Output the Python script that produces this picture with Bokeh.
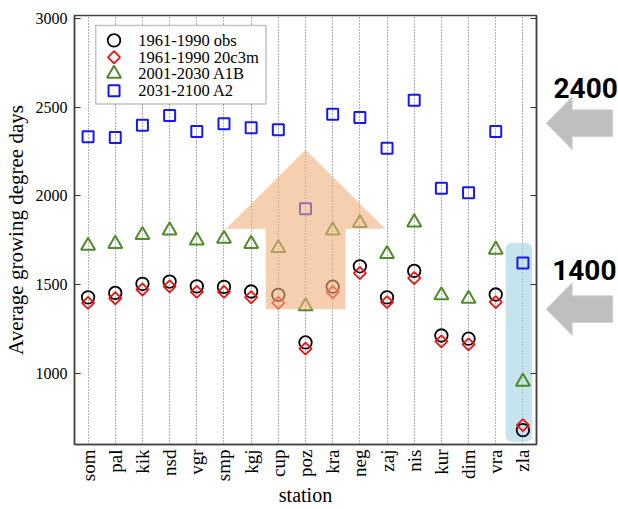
import numpy as np
from bokeh.plotting import figure
from bokeh.layouts import row
from bokeh.models import (ColumnDataSource, FixedTicker, LinearAxis, Range1d,
                          PolyAnnotation, BoxAnnotation, CustomJSTickFormatter)
from bokeh.core.properties import value
from bokeh.embed import file_html
from bokeh.resources import INLINE

# ---------------- data ----------------
stations = ["som", "pal", "kik", "nsd", "vgr", "smp", "kgj", "cup", "poz",
            "kra", "neg", "zaj", "nis", "kur", "dim", "vra", "zla"]
obs_1961_1990 = [1428, 1453, 1504, 1517, 1490, 1487, 1461, 1442, 1174,
                 1488, 1603, 1428, 1577, 1213, 1195, 1444, 680]
c20c3m_1961_1990 = [1397, 1423, 1472, 1490, 1459, 1459, 1429, 1397, 1139,
                    1457, 1565, 1401, 1537, 1180, 1163, 1401, 708]
a1b_2001_2030 = [1719, 1729, 1779, 1805, 1749, 1758, 1729, 1706, 1378,
                 1805, 1847, 1672, 1850, 1440, 1420, 1697, 953]
a2_2031_2100 = [2333, 2328, 2397, 2453, 2363, 2406, 2384, 2372, 1927,
                2459, 2442, 2268, 2538, 2043, 2017, 2363, 1622]
series_labels = ["1961-1990 obs", "1961-1990 20c3m", "2001-2030 A1B", "2031-2100 A2"]
y_ticks = [1000, 1500, 2000, 2500, 3000]
levels = ["2400", "1400"]

SERIF = "Liberation Serif"
X0, X1 = -0.5, 16.5
Y0, Y1 = 599, 3016

# frame geometry (canvas px)
W_TOTAL, H = 618, 509
W_MAIN = 542
FL, FR, FT, FB = 72, 536, 15, 446


def dx(px):  # canvas px -> data x
    return X0 + (px - FL) / (FR - FL) * (X1 - X0)


def dy(py):  # canvas px -> data y
    return Y1 - (py - FT) / (FB - FT) * (Y1 - Y0)


x_idx = list(range(len(stations)))
src = ColumnDataSource(dict(x=x_idx, obs=obs_1961_1990, c20=c20c3m_1961_1990,
                            a1b=a1b_2001_2030, a2=a2_2031_2100))

p = figure(width=W_MAIN, height=H, x_range=Range1d(X0, X1), y_range=Range1d(Y0, Y1),
           output_backend="svg", toolbar_location=None,
           min_border_left=FL, min_border_right=W_MAIN - FR, min_border_top=FT,
           min_border_bottom=H - FB)
p.background_fill_color = "white"
p.border_fill_color = "white"
p.outline_line_color = "#444444"
p.outline_line_width = 1.5

# grid
p.ygrid.grid_line_color = None
p.xgrid.ticker = FixedTicker(ticks=x_idx)
p.xgrid.grid_line_color = "#666666"
p.xgrid.grid_line_dash = "1 2"
p.xgrid.grid_line_width = 1

# x axis
xa = p.xaxis[0]
xa.ticker = FixedTicker(ticks=x_idx)
xa.major_label_overrides = {i: s for i, s in zip(x_idx, stations)}
xa.major_label_orientation = np.pi / 2
xa.major_tick_in = 0
xa.major_tick_out = 0
xa.minor_tick_in = 0
xa.minor_tick_out = 0
xa.major_label_standoff = 5
xa.major_label_text_font = SERIF
xa.major_label_text_font_size = "19px"
xa.major_label_text_color = "black"
xa.axis_label = "station"
xa.axis_label_text_font = SERIF
xa.axis_label_text_font_size = "20px"
xa.axis_label_text_font_style = "normal"
xa.axis_label_text_color = "black"
xa.axis_label_standoff = 0
xa.axis_line_color = "#444444"
xa.axis_line_width = 1.5

# y axis
ya = p.yaxis[0]
ya.ticker = FixedTicker(ticks=y_ticks)
ya.major_tick_in = 6
ya.major_tick_out = 0
ya.minor_tick_in = 0
ya.minor_tick_out = 0
ya.major_tick_line_color = "#333333"
ya.major_tick_line_width = 1.2
ya.major_label_standoff = 7
ya.major_label_text_font = SERIF
ya.major_label_text_font_size = "16px"
ya.major_label_text_color = "black"
ya.axis_label = "Average growing degree days"
ya.axis_label_text_font = SERIF
ya.axis_label_text_font_size = "21px"
ya.axis_label_text_font_style = "normal"
ya.axis_label_text_color = "black"
ya.axis_label_standoff = 5
ya.axis_line_color = "#444444"
ya.axis_line_width = 1.5

ra = LinearAxis(ticker=FixedTicker(ticks=y_ticks),
                formatter=CustomJSTickFormatter(code="return ''"))
ra.major_tick_in = 6
ra.major_tick_out = 0
ra.minor_tick_in = 0
ra.minor_tick_out = 0
ra.major_label_standoff = 0
ra.major_tick_line_color = "#333333"
ra.major_tick_line_width = 1.2
ra.axis_line_color = "#444444"
ra.axis_line_width = 1.5
p.add_layout(ra, "right")

# light-blue highlight behind the last station
p.add_layout(BoxAnnotation(left=dx(505), right=dx(531.7), bottom=dy(443.3), top=dy(243.3),
                           fill_color="#a0d2e1", fill_alpha=0.6, line_color=None,
                           border_radius=6, level="underlay"))

styles = [
    dict(marker="circle", size=12.5, line_color="black", line_width=1.8, angle=0),
    dict(marker="square", size=8.6, line_color="#ee1111", line_width=1.8, angle=np.pi / 4),
    dict(marker="triangle", size=14, line_color="#4e8c2a", line_width=2, angle=0),
    dict(marker="square", size=11, line_color="#1818f2", line_width=2, angle=0),
]
cols = ["obs", "c20", "a1b", "a2"]
for col, st in zip(cols, styles):
    p.scatter("x", col, source=src, fill_color=None, **st)

# legend (drawn by hand so the markers keep their plot size/shape)
p.add_layout(BoxAnnotation(left=dx(93.3), right=dx(264.3), top=dy(25), bottom=dy(104),
                           fill_color="white", fill_alpha=1, line_color="#3a3a3a",
                           line_width=1.5, level="underlay"))
row_py = [40, 57, 73.5, 90.5]
for lab, st, py in zip(series_labels, styles, row_py):
    p.scatter([dx(111.7)], [dy(py)], fill_color=None, **st)
p.text(x=[dx(136)] * 4, y=[dy(py) for py in row_py], text=series_labels,
       text_font=value(SERIF), text_font_size="16.5px", text_baseline="middle",
       text_align="left", text_color="black")

# orange arrow over the central stations
p.add_layout(PolyAnnotation(
    xs=[dx(304), dx(384), dx(344.3), dx(344.3), dx(264), dx(264), dx(224.3)],
    ys=[dy(150), dy(229.3), dy(229.3), dy(310), dy(310), dy(229.3), dy(229.3)],
    fill_color="#F0AF7B", fill_alpha=0.6, line_color=None))

# side panel with the grey arrows (x in pixels, y shares the data scale)
W_SIDE = W_TOTAL - W_MAIN
q = figure(width=W_SIDE, height=H, x_range=Range1d(0, W_SIDE), y_range=p.y_range,
           output_backend="svg", toolbar_location=None, x_axis_type=None, y_axis_type=None,
           min_border=0)
q.outline_line_color = None
q.grid.grid_line_color = None
q.border_fill_color = "white"
q.background_fill_color = "white"
tip_x, head_x, end_x = 545.7 - W_MAIN, 571.7 - W_MAIN, 612.3 - W_MAIN
centres = [123.3, 310]
for c in centres:
    q.patch([tip_x, head_x, head_x, end_x, end_x, head_x, head_x],
            [dy(c), dy(c - 26.5), dy(c - 13.5), dy(c - 13.5), dy(c + 13.5), dy(c + 13.5),
             dy(c + 26.5)],
            fill_color="#bfbfbf", line_color="#d4d4d4", line_width=1)
q.text(x=[553 - W_MAIN, 551.7 - W_MAIN], y=[dy(87.5), dy(270.5)], text=levels,
       text_font=value("Roboto"), text_font_style="bold", text_font_size="28px",
       text_color="black", text_baseline="alphabetic", text_align="left")

layout = row(p, q, spacing=0)
open("out.html", "w").write(file_html(layout, INLINE))
